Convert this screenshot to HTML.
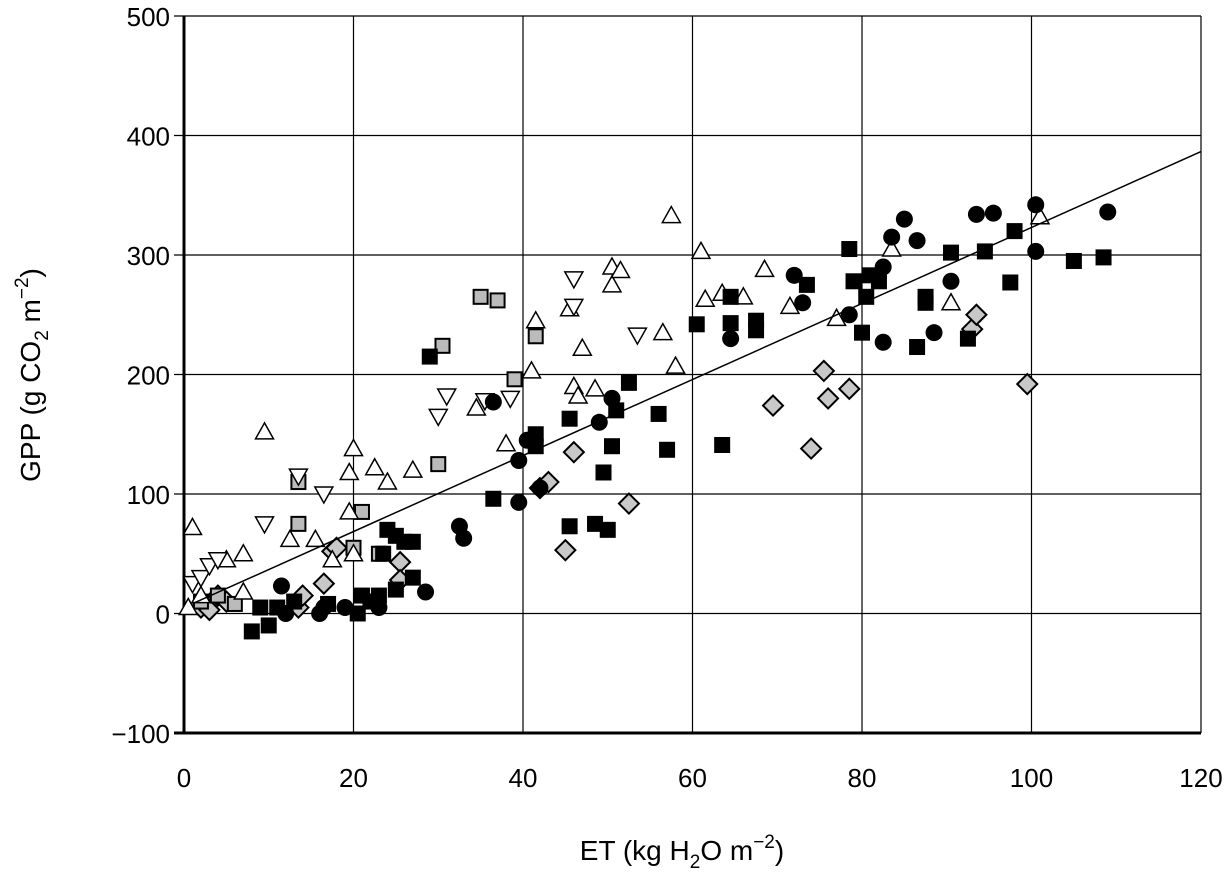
<!DOCTYPE html>
<html><head><meta charset="utf-8"><style>
body{margin:0;background:#fff;}
svg{display:block;font-family:"Liberation Sans",Arial,sans-serif;}
</style></head><body>
<svg id="chart" width="1226" height="877" viewBox="0 0 1226 877" xmlns="http://www.w3.org/2000/svg">
<g id="grid"></g>
<g id="ticks"></g>
<g id="marks"></g>
<text x="682" y="860" font-size="28" text-anchor="middle">ET (kg H<tspan font-size="19" dy="8">2</tspan><tspan dy="-8">O m</tspan><tspan font-size="19" dy="-12">−2</tspan><tspan dy="12">)</tspan></text>
<text transform="translate(40,375) rotate(-90)" font-size="28" text-anchor="middle">GPP (g CO<tspan font-size="19" dy="8">2</tspan><tspan dy="-8"> m</tspan><tspan font-size="19" dy="-12">−2</tspan><tspan dy="12">)</tspan></text>
</svg>
<script>
const xTicks=[0,20,40,60,80,100,120];
const yTicks=[-100,0,100,200,300,400,500];
const yTickLabels=["−100","0","100","200","300","400","500"];
const filledCircles=[[11.5,23],[12,0],[16,0],[16.5,5],[19,5],[23,5],[28.5,18],[32.5,73],[33,63],[36.5,177],[39.5,93],[39.5,128],[40.5,145],[42,105],[49,160],[50.5,180],[64.5,230],[72,283],[73,260],[78.5,250],[82.5,227],[82.5,290],[83.5,315],[85,330],[86.5,312],[88.5,235],[90.5,278],[93.5,334],[95.5,335],[100.5,342],[100.5,303],[109,336]];
const filledSquares=[[8,-15],[9,5],[10,-10],[11,5],[13,10],[17,8],[20.5,0],[21,15],[22,10],[23,15],[23.5,50],[24,70],[25,65],[25,20],[26,60],[27,60],[27,30],[29,215],[36.5,96],[41.5,150],[41.5,140],[45.5,163],[45.5,73],[48.5,75],[49.5,118],[50,70],[50.5,140],[51,170],[52.5,193],[56,167],[57,137],[60.5,242],[63.5,141],[64.5,265],[64.5,243],[67.5,245],[67.5,237],[73.5,275],[78.5,305],[79,278],[80,235],[80.5,265],[81,283],[82,278],[86.5,223],[87.5,265],[87.5,260],[90.5,302],[92.5,230],[94.5,303],[97.5,277],[98,320],[105,295],[108.5,298]];
const openUp=[[0.5,5],[1,72],[2,15],[5,45],[7,50],[7,18],[9.5,152],[12.5,62],[15.5,62],[17.5,45],[19.5,85],[19.5,118],[20,138],[20,50],[22.5,122],[24,110],[27,120],[34.5,172],[38,142],[41,203],[41.5,245],[45.5,255],[46,190],[46.5,182],[47,222],[48.5,188],[50.5,290],[50.5,275],[51.5,287],[56.5,235],[57.5,333],[58,207],[61,303],[61.5,263],[63.5,268],[66,265],[68.5,288],[71.5,257],[77,247],[83.5,305],[90.5,260],[101,332]];
const openDown=[[1,25],[2,30],[3,40],[4,45],[9.5,75],[13.5,115],[16.5,100],[30,165],[31,182],[35.5,178],[38.5,180],[46,280],[46,257],[53.5,233]];
const graySquares=[[2,10],[4,15],[6,8],[13.5,110],[13.5,75],[21,85],[23,50],[30,125],[30.5,224],[35,265],[37,262],[39,196],[41.5,232],[20,55]];
const grayDiamonds=[[2,5],[3,3],[4,15],[5,10],[13.5,5],[14,15],[16.5,25],[17.5,52],[18,55],[25.5,43],[25.5,28],[42,105],[43,110],[45,53],[46,135],[52.5,92],[69.5,174],[74,138],[75.5,203],[76,180],[78.5,188],[93,238],[93.5,250],[99.5,192]];
const fitIntercept=5, fitSlope=3.18, fitRange=[1,120];

const NS="http://www.w3.org/2000/svg";
const X0=184,X1=1201,Y0=733,Y1=16,xmin=0,xmax=120,ymin=-100,ymax=500;
const sx=v=>X0+(v-xmin)/(xmax-xmin)*(X1-X0);
const sy=v=>Y0-(v-ymin)/(ymax-ymin)*(Y0-Y1);
function mk(tag,attrs,parent){const e=document.createElementNS(NS,tag);for(const k in attrs)e.setAttribute(k,attrs[k]);parent.appendChild(e);return e;}
const grid=document.getElementById('grid'),ticks=document.getElementById('ticks'),marks=document.getElementById('marks');
xTicks.forEach(t=>{
 const l=mk('line',{x1:sx(t),x2:sx(t),y1:Y1,y2:Y0,stroke:'#000','stroke-width':t===0?3:1.2},grid);
 
 
 const tx=mk('text',{x:sx(t),y:787,'font-size':26,'text-anchor':'middle'},ticks);tx.textContent=t;
 
 
});
yTicks.forEach((t,i)=>{
 const l=mk('line',{x1:X0-10,x2:X1,y1:sy(t),y2:sy(t),stroke:'#000','stroke-width':(t===-100)?3:1.2},grid);
 
 
 const tx=mk('text',{x:170,y:sy(t)+10,'font-size':26,'text-anchor':'end'},ticks);tx.textContent=yTickLabels[i];
 
 
});
function draw(arr,name,fn){arr.forEach(p=>{const e=fn(sx(p[0]),sy(p[1]));
 
 });}
draw(grayDiamonds,'gray-diamond-point',(x,y)=>mk('polygon',{points:`${x},${y-10} ${x+10},${y} ${x},${y+10} ${x-10},${y}`,fill:'#c8c8c8',stroke:'#000','stroke-width':2},marks));
draw(graySquares,'gray-square-point',(x,y)=>mk('rect',{x:x-7,y:y-7,width:14,height:14,fill:'#bbb',stroke:'#000','stroke-width':2},marks));
draw(openUp,'open-triangle-up-point',(x,y)=>mk('polygon',{points:`${x},${y-9} ${x+9},${y+7} ${x-9},${y+7}`,fill:'#fff',stroke:'#000','stroke-width':1.5},marks));
draw(openDown,'open-triangle-down-point',(x,y)=>mk('polygon',{points:`${x},${y+9} ${x+9},${y-7} ${x-9},${y-7}`,fill:'#fff',stroke:'#000','stroke-width':1.5},marks));
draw(filledSquares,'filled-square-point',(x,y)=>mk('rect',{x:x-8,y:y-8,width:16,height:16,fill:'#000'},marks));
draw(filledCircles,'filled-circle-point',(x,y)=>mk('circle',{cx:x,cy:y,r:8.5,fill:'#000'},marks));
const fl=mk('line',{x1:sx(fitRange[0]),y1:sy(fitIntercept+fitSlope*fitRange[0]),x2:sx(fitRange[1]),y2:sy(fitIntercept+fitSlope*fitRange[1]),stroke:'#000','stroke-width':1.5},marks);


</script>
</body></html>
